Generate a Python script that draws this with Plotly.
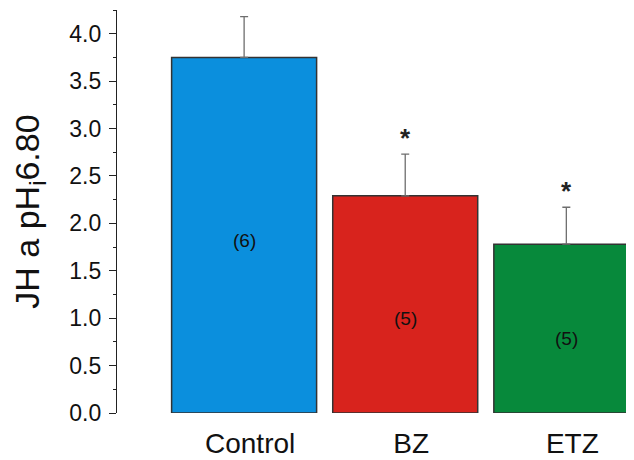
import plotly.graph_objects as go

categories = ["Control", "BZ", "ETZ"]
values = [3.75, 2.29, 1.78]
errors = [0.43, 0.44, 0.39]
n_labels = ["(6)", "(5)", "(5)"]
n_label_y = [1.82, 1.0, 0.79]
significant = [False, True, True]
colors = ["#0b8fdd", "#d8231d", "#07893b"]
y_ticks = [0.0, 0.5, 1.0, 1.5, 2.0, 2.5, 3.0, 3.5, 4.0]

fig = go.Figure()
fig.add_trace(go.Bar(
    x=list(range(len(categories))), y=values,
    marker=dict(color=colors, line=dict(color="#333333", width=1.5)),
    width=0.9,
    error_y=dict(type="data", array=errors, arrayminus=[0]*len(errors),
                 symmetric=False, color="#6e6e6e", thickness=1.3, width=4),
))

for i, (v, e, s) in enumerate(zip(values, errors, significant)):
    fig.add_annotation(x=i, y=n_label_y[i], text=n_labels[i], showarrow=False,
                       font=dict(size=19, color="#111111"))
    if s:
        fig.add_annotation(x=i, y=v + e + 0.17, text="<b>*</b>", showarrow=False,
                           font=dict(size=26, color="#222222"))

fig.update_layout(
    width=626, height=452,
    margin=dict(l=109, r=0, t=2, b=47),
    paper_bgcolor="white", plot_bgcolor="white",
    font=dict(family="Liberation Sans, Arial, sans-serif", color="#111111"),
    showlegend=False,
    xaxis=dict(range=[-0.789, 2.42], tickmode="array", automargin=False,
               tickvals=list(range(len(categories))), ticktext=categories,
               showline=False, showgrid=False, zeroline=False, ticks="",
               ticklabelshift=6, ticklabelstandoff=11,
               tickfont=dict(size=28)),
    yaxis=dict(range=[0, 4.25], tickmode="array", tickvals=y_ticks, automargin=False,
               ticktext=[f"{t:.1f}" for t in y_ticks],
               showline=True, linecolor="#222222", linewidth=1.2,
               ticks="outside", ticklen=7, tickcolor="#222222", tickwidth=1.2,
               ticklabelstandoff=3,
               minor=dict(ticks="outside", ticklen=3, dtick=0.25, tickcolor="#222222", tickwidth=1),
               showgrid=False, zeroline=False, tickfont=dict(size=23),
               title=dict(text="JH a pH<sub>i</sub>6.80", font=dict(size=34), standoff=22)),
)

fig.write_html("out.html")
